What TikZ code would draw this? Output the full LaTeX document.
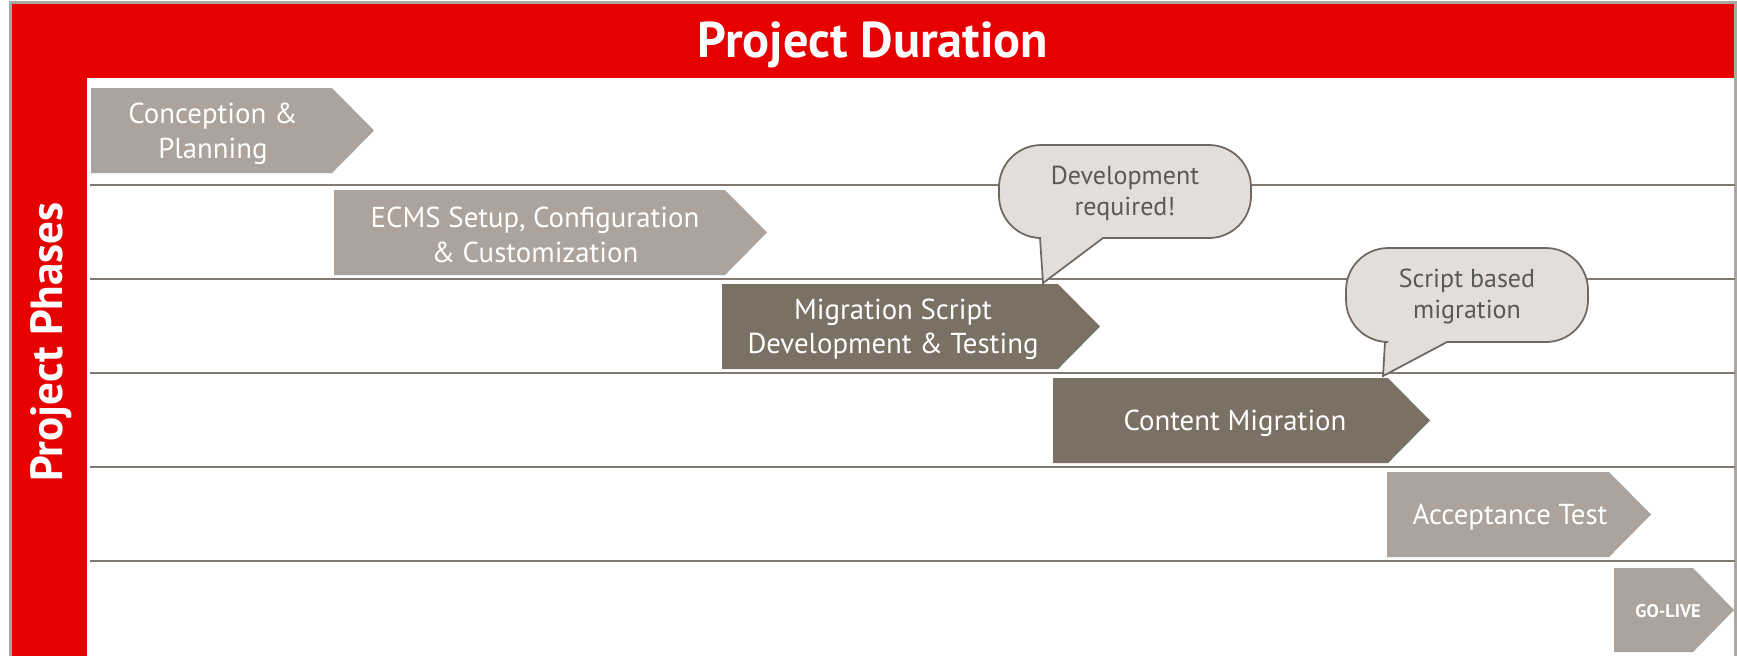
\documentclass[tikz,border=0pt]{standalone}
\usepackage{fontspec}
\setmainfont{PT Sans}
\usepackage{tikz}
\usetikzlibrary{calc}

\definecolor{projred}{RGB}{230,0,0}
\definecolor{phaselight}{RGB}{171,163,156}
\definecolor{phasedark}{RGB}{122,112,100}
\definecolor{notefill}{RGB}{225,222,219}
\definecolor{noteline}{RGB}{110,104,97}
\definecolor{notetext}{RGB}{89,89,89}
\definecolor{rulegray}{RGB}{128,122,115}
\definecolor{framegray}{RGB}{170,166,161}

\tikzset{
    lightbar/.style={fill=phaselight},
    darkbar/.style={fill=phasedark},
    bartext/.style={text=white, align=center, inner sep=0pt,
        font=\fontsize{8.2}{9.8}\selectfont},
    notebox/.style={draw=noteline, fill=notefill, line width=0.5pt},
    notetext/.style={text=notetext, align=center, inner sep=0pt,
        font=\fontsize{7.4}{8.8}\selectfont},
    headtext/.style={text=white, inner sep=0pt, font=\bfseries}
}

\begin{document}
\begin{tikzpicture}[x=0.01cm, y=-0.01cm]
        \useasboundingbox (0,0) rectangle (1737,656);
        % red frame
        \fill[projred] (11,3) rectangle (1735,78);
        \fill[projred] (11,3) rectangle (87,656);
        \draw[framegray, line width=0.6pt] (10.5,656) |- (1735.5,2.5) -- (1735.5,656);
        \node[headtext, font=\bfseries\fontsize{14.3}{16}\selectfont] (duration) at (873,45) {Project Duration};
        \node[headtext, rotate=90, font=\bfseries\fontsize{12.8}{15}\selectfont] (phases) at (51,342) {Project Phases};
        % row separators
        \foreach \y in {185,279,373,467,561}
        \draw[rulegray, line width=0.7pt] (90,\y) -- (1735,\y);
        % phases
        \fill[lightbar] (91,88) -- (332,88) -- (374,130.5) -- (332,173) -- (91,173) -- cycle;
        \node[bartext] (concept) at (213,134) {Conception \&\\Planning};
        \fill[lightbar] (334,190) -- (725,190) -- (767,232.5) -- (725,275) -- (334,275) -- cycle;
        \node[bartext] (setup) at (535,235) {ECMS Setup, Configuration\\\& Customization};
        \fill[darkbar] (722,284) -- (1058,284) -- (1100,326.5) -- (1058,369) -- (722,369) -- cycle;
        \node[bartext] (script) at (893,329) {Migration Script\\Development \& Testing};
        \fill[darkbar] (1053,378) -- (1388,378) -- (1430,420.5) -- (1388,463) -- (1053,463) -- cycle;
        \node[bartext] (content) at (1235,423) {Content Migration};
        \fill[lightbar] (1387,472) -- (1609,472) -- (1651,514.5) -- (1609,557) -- (1387,557) -- cycle;
        \node[bartext] (accept) at (1510,517) {Acceptance Test};
        \fill[lightbar] (1614,568) -- (1693,568) -- (1734,610) -- (1693,652) -- (1614,652) -- cycle;
        \node[bartext, font=\bfseries\fontsize{5.2}{6}\selectfont] (golive) at (1668,611) {GO-LIVE};
        % callouts
        \draw[notebox] (1150,238) [rounded corners=12] -- (1251,238) -- (1251,145)
            -- (999,145) -- (999,238) [sharp corners] -- (1040,238) -- (1043,283)
            -- (1103,238) -- cycle;
        \node[notetext] (devnote) at (1125,193) {Development\\required!};
        \draw[notebox] (1500,342) [rounded corners=12] -- (1588,342) -- (1588,248)
            -- (1346,248) -- (1346,342) [sharp corners] -- (1385,342) -- (1383,376)
            -- (1447,342) -- cycle;
        \node[notetext] (scriptnote) at (1467,296) {Script based\\migration};
    \end{tikzpicture}
\end{document}
